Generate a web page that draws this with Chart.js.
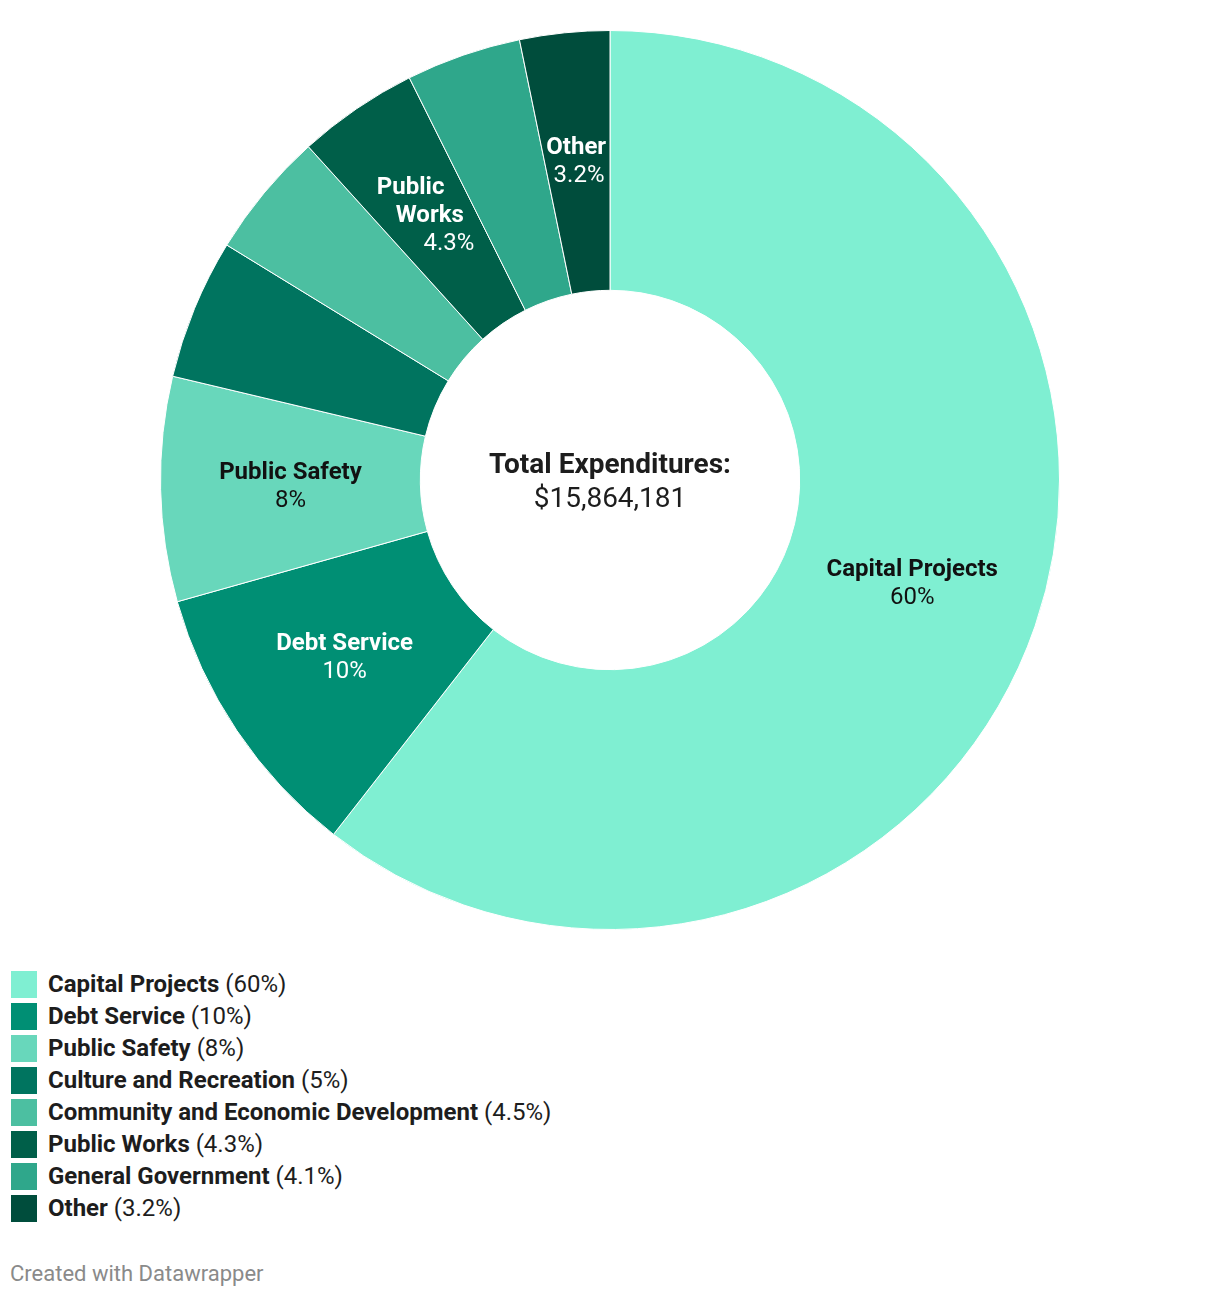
<!DOCTYPE html>
<html>
<head>
<meta charset="utf-8">
<script src="https://cdn.jsdelivr.net/npm/chart.js@4"></script>
<style>
  body { margin: 0; background: #fff; font-family: Roboto, sans-serif; }
  #wrap { position: relative; width: 1220px; height: 1298px; }
  #chart { position: absolute; left: 0; top: 0; }
  #legend { position: absolute; left: 11px; top: 968px; }
  .row { display: flex; align-items: center; height: 32px; }
  .sw { width: 26px; height: 27px; margin-right: 11px; }
  .txt { font-size: 24px; color: #1d1d1d; white-space: nowrap; }
  .txt b { font-weight: 700; }
  #credit { position: absolute; left: 10px; top: 1261px; font-size: 22px; color: #8a8a8a; }
</style>
</head>
<body>
<div id="wrap">
  <canvas id="chart" width="1220" height="960"></canvas>
  <div id="legend"></div>
  <div id="credit">Created with Datawrapper</div>
</div>
<script>
// data
const categories = ['Capital Projects', 'Debt Service', 'Public Safety', 'Culture and Recreation',
  'Community and Economic Development', 'Public Works', 'General Government', 'Other'];
const shares = [60, 10, 8, 5, 4.5, 4.3, 4.1, 3.2];
const sliceColors = ['#7fefd2', '#008f74', '#68d7bb', '#00745f', '#4cbfa1', '#005f49', '#2fa78b', '#004d3c'];
// label lines drawn inside slices (null = no label)
const sliceLabels = [['Capital Projects'], ['Debt Service'], ['Public Safety'], null, null,
  ['Public', 'Works'], null, ['Other']];
const darkText = [true, false, true, false, false, false, false, false];
// narrow slices: lines follow the slice direction
const slanted = [false, false, false, false, false, true, false, true];
const centerTitle = 'Total Expenditures:';
const centerValue = '$15,864,181';

const fmt = v => v + '%';

// legend
const legend = document.getElementById('legend');
categories.forEach((c, i) => {
  const row = document.createElement('div');
  row.className = 'row';
  row.innerHTML = '<div class="sw" style="background:' + sliceColors[i] + '"></div>' +
    '<div class="txt"><b>' + c + '</b> (' + fmt(shares[i]) + ')</div>';
  legend.appendChild(row);
});

const sliceText = {
  id: 'sliceText',
  afterDatasetsDraw(chart) {
    const ctx = chart.ctx;
    const meta = chart.getDatasetMeta(0);
    ctx.save();
    ctx.textAlign = 'center';
    ctx.textBaseline = 'middle';
    meta.data.forEach((arc, i) => {
      const lines = sliceLabels[i];
      if (!lines) return;
      const mid = (arc.startAngle + arc.endAngle) / 2;
      const r = (arc.innerRadius + arc.outerRadius) / 2;
      const x = arc.x + Math.cos(mid) * r;
      const y = arc.y + Math.sin(mid) * r;
      const slope = slanted[i] ? Math.cos(mid) / Math.sin(mid) : 0;
      const all = lines.concat([fmt(shares[i])]);
      const lh = 28;
      const y0 = y - (all.length - 1) * lh / 2;
      ctx.fillStyle = darkText[i] ? '#111' : '#fff';
      all.forEach((l, k) => {
        const ly = y0 + k * lh;
        ctx.font = (k < lines.length ? '700' : '400') + ' 24px Roboto';
        ctx.fillText(l, x + (ly - y) * slope, ly);
      });
    });
    // centre text
    const a = meta.data[0];
    ctx.fillStyle = '#1d1d1d';
    ctx.font = '700 28px Roboto';
    ctx.fillText(centerTitle, a.x, a.y - 14);
    ctx.font = '400 28px Roboto';
    ctx.fillText(centerValue, a.x, a.y + 20);
    ctx.restore();
  }
};

new Chart(document.getElementById('chart'), {
  type: 'doughnut',
  data: {
    labels: categories,
    datasets: [{
      data: shares,
      backgroundColor: sliceColors,
      borderColor: '#fff',
      borderWidth: 1
    }]
  },
  options: {
    responsive: false,
    animation: false,
    cutout: '42.2%',
    layout: { padding: { top: 30, bottom: 30 } },
    plugins: { legend: { display: false }, tooltip: { enabled: false } }
  },
  plugins: [sliceText]
});
</script>
</body>
</html>
